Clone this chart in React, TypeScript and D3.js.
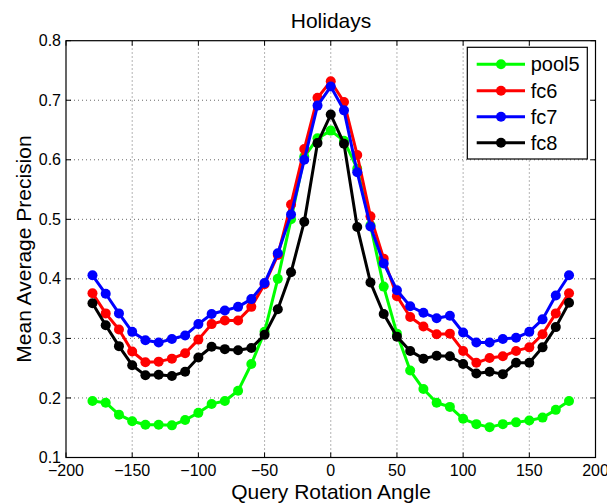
import React from "react";
import * as d3 from "d3";

const angles = [-180,-170,-160,-150,-140,-130,-120,-110,-100,-90,-80,-70,-60,-50,-40,-30,-20,-10,0,10,20,30,40,50,60,70,80,90,100,110,120,130,140,150,160,170,180];

const pool5 = [0.195,0.192,0.172,0.161,0.155,0.155,0.154,0.163,0.175,0.190,0.195,0.212,0.257,0.311,0.400,0.500,0.605,0.636,0.649,0.632,0.585,0.490,0.387,0.308,0.246,0.215,0.192,0.185,0.165,0.156,0.151,0.156,0.159,0.162,0.167,0.180,0.195];
const fc6 = [0.376,0.342,0.315,0.278,0.260,0.261,0.266,0.275,0.298,0.324,0.330,0.330,0.353,0.391,0.440,0.525,0.618,0.704,0.732,0.697,0.608,0.505,0.434,0.371,0.336,0.320,0.307,0.308,0.279,0.259,0.267,0.270,0.279,0.285,0.307,0.342,0.376];
const fc7 = [0.406,0.375,0.342,0.311,0.297,0.293,0.299,0.305,0.324,0.341,0.347,0.353,0.366,0.393,0.443,0.508,0.600,0.691,0.723,0.683,0.579,0.488,0.426,0.381,0.354,0.343,0.334,0.338,0.310,0.293,0.293,0.299,0.301,0.311,0.332,0.372,0.406];
const fc8 = [0.359,0.322,0.287,0.255,0.238,0.239,0.237,0.244,0.268,0.286,0.282,0.280,0.284,0.306,0.349,0.411,0.496,0.628,0.676,0.627,0.487,0.394,0.341,0.303,0.279,0.266,0.271,0.270,0.257,0.241,0.244,0.240,0.259,0.259,0.285,0.319,0.360];

const seriesNames = ["pool5", "fc6", "fc7", "fc8"];
const seriesColors = ["#00ff00", "#ff0000", "#0000ff", "#000000"];
const xTicks = [-200,-150,-100,-50,0,50,100,150,200];
const yTicks = [0.1,0.2,0.3,0.4,0.5,0.6,0.7,0.8];

const W = 607, H = 504;
const FONT = "'Liberation Sans', Arial, Helvetica, sans-serif";

export default function App() {
  const x = d3.scaleLinear().domain([-200, 200]).range([66, 595.5]);
  const y = d3.scaleLinear().domain([0.1, 0.8]).range([457.5, 40.7]);
  const allSeries = [pool5, fc6, fc7, fc8];
  const line = d3.line<number>().x((_, i) => x(angles[i])).y((d) => y(d));
  const [x0, x1] = x.range();
  const [y0, y1] = y.range();
  const fmtX = (v: number) => (v < 0 ? "\u2212" + Math.abs(v) : String(v));
  const tickLen = 5;

  const legX = 467.3, legY = 47.3, legW = 120, legH = 111.7;
  const legRowY = [64.3, 90.7, 116.7, 142.7];

  return (
    <svg width={W} height={H} style={{ position: "absolute", left: 0, top: 0, background: "#fff" }} fontFamily={FONT}>
      <rect x={0} y={0} width={W} height={H} fill="#fff" />
      {/* grid */}
      <g stroke="#444" strokeWidth={0.8} strokeDasharray="1,3">
        {xTicks.slice(1, -1).map((t) => (
          <line key={"gx" + t} x1={x(t)} x2={x(t)} y1={y0} y2={y1} />
        ))}
        {yTicks.slice(1, -1).map((t) => (
          <line key={"gy" + t} x1={x0} x2={x1} y1={y(t)} y2={y(t)} />
        ))}
      </g>
      {/* ticks */}
      <g stroke="#000" strokeWidth={1}>
        {xTicks.map((t) => (
          <g key={"tx" + t}>
            <line x1={x(t)} x2={x(t)} y1={y0} y2={y0 - tickLen} />
            <line x1={x(t)} x2={x(t)} y1={y1} y2={y1 + tickLen} />
          </g>
        ))}
        {yTicks.map((t) => (
          <g key={"ty" + t}>
            <line x1={x0} x2={x0 + tickLen} y1={y(t)} y2={y(t)} />
            <line x1={x1} x2={x1 - tickLen} y1={y(t)} y2={y(t)} />
          </g>
        ))}
      </g>
      {/* series */}
      {allSeries.map((s, k) => (
        <g key={seriesNames[k]}>
          <path d={line(s) || ""} fill="none" stroke={seriesColors[k]} strokeWidth={3} strokeLinejoin="round" />
          {s.map((v, i) => (
            <circle key={i} cx={x(angles[i])} cy={y(v)} r={5} fill={seriesColors[k]} />
          ))}
        </g>
      ))}
      {/* axes box */}
      <rect x={x0} y={y1} width={x1 - x0} height={y0 - y1} fill="none" stroke="#000" strokeWidth={1.2} />
      {/* tick labels */}
      <g fontSize={16} fill="#000">
        {xTicks.map((t) => (
          <text key={"lx" + t} x={x(t)} y={476} textAnchor="middle">{fmtX(t)}</text>
        ))}
        {yTicks.map((t) => (
          <text key={"ly" + t} x={61} y={y(t)} dy="0.35em" textAnchor="end">{t.toFixed(1)}</text>
        ))}
      </g>
      {/* title and labels */}
      <text x={331} y={28} textAnchor="middle" fontSize={21} fill="#000">Holidays</text>
      <text x={331} y={499} textAnchor="middle" fontSize={21} fill="#000">Query Rotation Angle</text>
      <text transform="translate(31,249) rotate(-90)" textAnchor="middle" fontSize={21} fill="#000">Mean Average Precision</text>
      {/* legend */}
      <rect x={legX} y={legY} width={legW} height={legH} fill="#fff" stroke="#000" strokeWidth={1.2} />
      {seriesNames.map((n, k) => (
        <g key={"leg" + n}>
          <line x1={476.7} x2={525} y1={legRowY[k]} y2={legRowY[k]} stroke={seriesColors[k]} strokeWidth={3} />
          <circle cx={501} cy={legRowY[k]} r={5} fill={seriesColors[k]} />
          <text x={530.7} y={legRowY[k]} dy="0.35em" fontSize={20} fill="#000">{n}</text>
        </g>
      ))}
    </svg>
  );
}
